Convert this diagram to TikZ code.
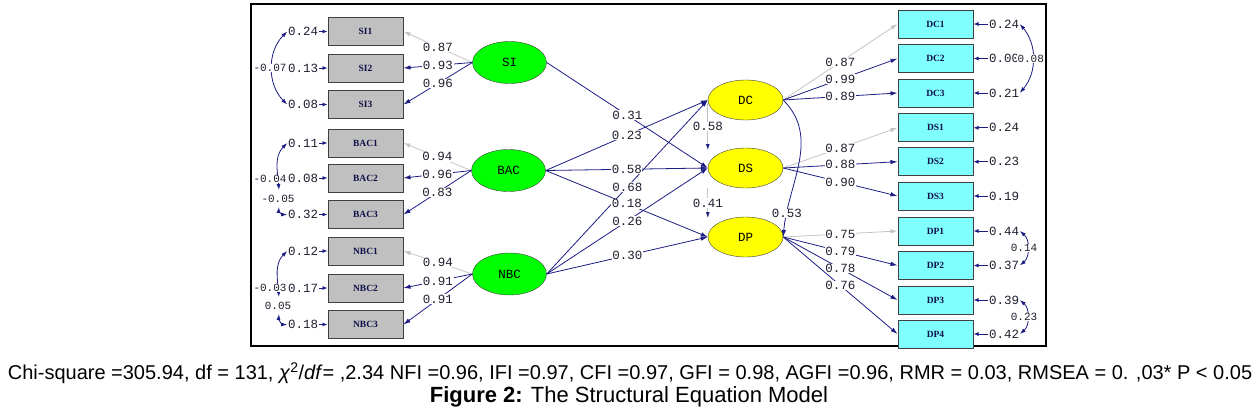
\documentclass[tikz,border=0pt]{standalone}
\usepackage{fontspec}
\setmainfont{Liberation Sans}
\newfontfamily\monofont{Liberation Mono}
\newfontfamily\boxfont{Liberation Serif}
\usetikzlibrary{arrows.meta,shapes.geometric}
\definecolor{PathNavy}{HTML}{1C1C84}
\definecolor{PathGray}{HTML}{C4C4C4}
\definecolor{LabelInk}{HTML}{1E1E2E}
\definecolor{BoxInk}{HTML}{10104A}
\definecolor{ObsGray}{HTML}{C0C0C0}
\definecolor{ObsCyan}{HTML}{80FFFF}
\definecolor{LatGreen}{HTML}{00FF00}
\definecolor{LatYellow}{HTML}{FFFF00}
\definecolor{BoxEdge}{HTML}{404040}

\begin{document}
\begin{tikzpicture}[x=1pt,y=-1pt,
    obsbox/.style={draw=BoxEdge,line width=1pt,minimum width=75pt,minimum height=28pt,inner sep=0pt,
      font=\boxfont\bfseries\fontsize{9.5}{9.5}\selectfont,text=BoxInk},
    exo/.style={ellipse,draw=BoxEdge,fill=LatGreen,minimum width=74pt,minimum height=42pt,inner sep=0pt,
      font=\monofont\fontsize{12.5}{12.5}\selectfont},
    endo/.style={exo,fill=LatYellow,minimum width=75pt,minimum height=40pt},
    num/.style={font=\monofont\fontsize{12.5}{12.5}\selectfont,text=LabelInk,inner sep=0.6pt},
    coef/.style={num,fill=white},
    covnum/.style={coef,font=\monofont\fontsize{11}{11}\selectfont,inner sep=0.3pt},
    link/.style={draw=PathNavy,line width=0.8pt,-{Latex[length=7pt,width=4.5pt]}},
    reflink/.style={link,draw=PathGray},
    errlink/.style={draw=PathNavy,line width=0.8pt,-{Latex[length=5pt,width=4pt]}},
    covlink/.style={draw=PathNavy,line width=0.8pt,{Latex[length=6pt,width=4pt]}-{Latex[length=6pt,width=4pt]}},
  ]
  \useasboundingbox (0,0) rectangle (1258,410);
  \draw[line width=2.4pt] (251,4) rectangle (1046,346);

  % latent variables
  \node[exo] (SI) at (509.5,62.5) {SI};
  \node[exo] (BAC) at (508.5,170.5) {BAC};
  \node[exo] (NBC) at (509.5,274) {NBC};
  \node[endo] (DC) at (745.5,100) {DC};
  \node[endo] (DS) at (745.5,168) {DS};
  \node[endo] (DP) at (745.5,237) {DP};

  % indicators and error variances
  \foreach \n/\y/\e in {SI1/31.5/0.24,SI2/68/0.13,SI3/104.5/0.08,BAC1/143/0.11,BAC2/178/0.08,
      BAC3/214.5/0.32,NBC1/251/0.12,NBC2/288/0.17,NBC3/324.5/0.18} {
    \node[obsbox,fill=ObsGray] (\n) at (365.5,\y) {\n};
    \node[num] (e\n) at (303,\y) {\e};
    \draw[errlink] (e\n) -- (\n);
  }
  \foreach \n/\y/\e in {DC1/24/0.24,DC2/58.5/0.00,DC3/93/0.21,DS1/127.8/0.24,DS2/161.7/0.23,
      DS3/196/0.19,DP1/231/0.44,DP2/265.5/0.37,DP3/300/0.39,DP4/334/0.42} {
    \node[obsbox,fill=ObsCyan] (\n) at (935.5,\y) {\n};
    \node[num] (e\n) at (1004,\y) {\e};
    \draw[errlink] (e\n) -- (\n);
  }

  % loadings
  \draw[reflink] (SI.west) -- node[coef] {0.87} (SI1.east);
  \draw[reflink] (BAC.west) -- node[coef] {0.94} (BAC1.east);
  \draw[reflink] (NBC.west) -- node[coef] {0.94} (NBC1.east);
  \draw[reflink] (DC.east) -- node[coef] {0.87} (DC1.west);
  \draw[reflink] (DS.east) -- node[coef] {0.87} (DS1.west);
  \draw[reflink] (DP.east) -- node[coef] {0.75} (DP1.west);
  \foreach \a/\b/\v in {SI/SI2/0.93,SI/SI3/0.96,BAC/BAC2/0.96,BAC/BAC3/0.83,NBC/NBC2/0.91,NBC/NBC3/0.91}
    \draw[link] (\a.west) -- node[coef] {\v} (\b.east);
  \foreach \a/\b/\v in {DC/DC2/0.99,DC/DC3/0.89,DS/DS2/0.88,DS/DS3/0.90,DP/DP2/0.79,DP/DP3/0.78,DP/DP4/0.76}
    \draw[link] (\a.east) -- node[coef] {\v} (\b.west);

  % structural paths
  \foreach \a/\b in {SI/DS,BAC/DC,BAC/DS,BAC/DP,NBC/DC,NBC/DS,NBC/DP}
    \draw[link] (\a.east) -- (\b.west);
  \foreach \a/\b/\v in {SI/DS/0.31,BAC/DC/0.23,BAC/DS/0.58,BAC/DP/0.18,NBC/DC/0.68,NBC/DS/0.26,NBC/DP/0.30}
    \path (\a.east) -- node[coef] {\v} (\b.west);
  \draw[reflink,-{Latex[length=6pt,width=4pt,color=PathNavy]}] ([yshift=-3pt]DC.west)
    -- node[coef] {0.58} ([yshift=18pt]DS.west);
  \draw[reflink,-{Latex[length=6pt,width=4pt,color=PathNavy]}] ([yshift=-20pt]DS.west)
    -- node[coef] {0.41} ([yshift=19pt]DP.west);
  \draw[link] (DC.east) to[out=-45,in=85] node[coef,pos=0.85] {0.53} (DP.east);

  % error covariances
  \coordinate (kBAC2) at (279,190);
  \coordinate (kBAC3) at (279,207);
  \coordinate (kNBC2) at (279,297);
  \coordinate (kNBC3) at (279,314);
  \draw[covlink] (eSI1.west) to[out=225,in=135] (eSI3.west);
  \draw[covlink] (eBAC1.west) to[out=225,in=95] (kBAC2);
  \draw[covlink] (kBAC3) to[out=265,in=180] (eBAC3.west);
  \draw[covlink] (eNBC1.west) to[out=225,in=95] (kNBC2);
  \draw[covlink] (kNBC3) to[out=265,in=180] (eNBC3.west);
  \draw[covlink] (eDC1.east) to[out=-50,in=50] (eDC3.east);
  \draw[covlink] (eDP1.east) to[out=-40,in=40] (eDP2.east);
  \draw[covlink] (eDP3.east) to[out=-40,in=40] (eDP4.east);
  \node[covnum] (cSI) at (270,68) {-0.07};
  \node[covnum] (cBAC12) at (270,179) {-0.04};
  \node[covnum] (cBAC23) at (278,199) {-0.05};
  \node[covnum] (cNBC12) at (270,288) {-0.03};
  \node[covnum] (cNBC23) at (278,305.5) {0.05};
  \node[covnum,anchor=west] (cDC) at (1017,58.5) {0.08};
  \node[covnum] (cDP12) at (1024,248) {0.14};
  \node[covnum] (cDP34) at (1024,317) {0.23};

  % fit indices and title
  \node[font=\fontsize{20}{22}\selectfont] (fitline) at (630,373)
    {Chi-square =305.94, df = 131, \textit{χ}\textsuperscript{2}/\textit{df}= ,2.34 NFI =0.96, IFI =0.97, CFI =0.97, GFI = 0.98, AGFI =0.96, RMR = 0.03, RMSEA = 0. ,03* P < 0.05};
  \node[font=\fontsize{22}{24}\selectfont] (title) at (629,397) {\textbf{Figure 2:} The Structural Equation Model};
\end{tikzpicture}
\end{document}
